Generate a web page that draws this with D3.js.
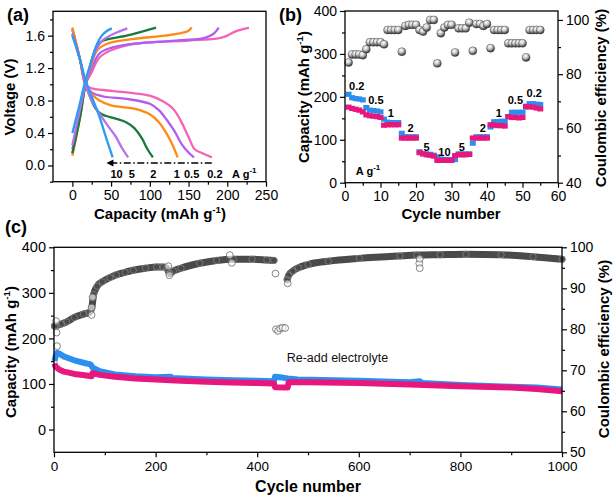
<!DOCTYPE html>
<html><head><meta charset="utf-8">
<script src="https://cdn.jsdelivr.net/npm/d3@7"></script>
<style>body{margin:0;background:#fff}</style>
</head><body><script>
// ---------------- DATA ----------------
// Panel (a): galvanostatic curves [capacity mAh/g, voltage V]
const rateNamesA = ["0.2","0.5","1","2","5","10"];
const chg02 = [[0,0.15],[10,0.6],[17,1.0],[25,1.15],[35,1.33],[50,1.42],[80,1.5],[150,1.54],[190,1.57],[200,1.6],[210,1.65],[220,1.68],[228,1.7]];
const dis02 = [[0,1.68],[10,1.3],[17,1.0],[25,0.95],[40,0.93],[70,0.9],[100,0.86],[115,0.8],[130,0.7],[140,0.55],[150,0.35],[158,0.2],[168,0.15],[180,0.1]];
const chg05 = [[0,0.2],[10,0.65],[17,1.0],[25,1.2],[35,1.38],[50,1.45],[80,1.5],[150,1.55],[170,1.57],[182,1.62],[189,1.7]];
const dis05 = [[0,1.68],[10,1.3],[17,1.0],[25,0.9],[40,0.85],[70,0.82],[100,0.76],[112,0.68],[122,0.56],[132,0.42],[142,0.25],[150,0.16],[157,0.1]];
const chg1 = [[0,0.12],[10,0.6],[17,1.0],[25,1.25],[32,1.42],[45,1.5],[80,1.56],[120,1.6],[140,1.63],[150,1.66],[154,1.7]];
const dis1 = [[0,1.7],[10,1.3],[17,1.0],[25,0.88],[35,0.8],[50,0.74],[80,0.7],[100,0.63],[112,0.53],[120,0.42],[128,0.28],[136,0.1]];
const chg2 = [[0,0.15],[10,0.6],[17,1.0],[25,1.3],[32,1.48],[40,1.54],[70,1.6],[108,1.7]];
const dis2 = [[0,1.62],[10,1.3],[17,1.0],[24,0.82],[30,0.7],[38,0.63],[55,0.58],[70,0.53],[80,0.46],[90,0.33],[97,0.2],[104,0.1]];
const chg5 = [[0,0.25],[10,0.7],[17,1.0],[25,1.28],[32,1.45],[40,1.55],[55,1.63],[71,1.69]];
const dis5 = [[0,1.62],[10,1.3],[17,1.0],[25,0.8],[33,0.67],[45,0.5],[55,0.37],[65,0.2],[72,0.1]];
const chg10 = [[0,0.4],[8,0.7],[17,1.05],[25,1.3],[32,1.5],[38,1.6],[45,1.66],[51,1.69]];
const dis10 = [[0,1.6],[10,1.3],[17,1.05],[25,0.85],[35,0.6],[45,0.3],[52,0.1]];
const arrowLabelsA = ["10","5","2","1","0.5","0.2","A g"];

// Panel (b): rate capability
const cyclesB = d3.range(1, 56);
const chargeB = [206,198,196,195,193, 175,169,168,167,165, 148,141,140,140,140, 115,107,107,107,107, 72,68,67,66,64, 60,55,54,54,54, 54,67,67,67,67, 92,107,107,107,107, 130,142,142,143,143, 154,164,164,164,164, 176,184,184,183,182];
const dischargeB = [176,173,171,169,165, 158,156,155,154,152, 134,135,135,135,135, 104,104,104,104,104, 70,67,65,64,62, 52,52,52,52,52, 63,65,65,65,66, 104,104,104,104,104, 135,134,133,133,132, 154,152,152,151,152, 178,177,176,174,172];
const ceB = [84.3,87.3,87.3,87.3,87.0, 89.2,91.8,91.8,91.8,91.8, 91.0,96.3,96.3,96.3,96.3, 88.3,97.8,98.2,98.2,98.2, 96.3,95.7,97.2,100,100, 84.0,95.1,97.2,98.2,98.2, 88.0,96.9,96.9,96.9,99.0, 88.6,98.5,98.5,97.8,98.5, 89.6,96.3,96.3,96.3,96.3, 91.4,91.4,91.4,91.4,91.4, 86.2,96.3,96.3,96.3,96.3];
const rateLabelsB = ["0.2","0.5","1","2","5","10","5","2","1","0.5","0.2"];

// Panel (c): long cycling [cycle, value]
const chargeC = [[1,150],[3,160],[6,168],[10,167],[20,160],[40,152],[60,146],[72,143],[76,136],[90,128],[120,121],[160,117],[200,115],[230,116],[232,113],[300,110],[350,108],[400,107],[433,106],[435,116],[450,114],[460,112],[480,110],[600,107],[700,104],[720,106],[725,102],[800,98],[900,94],[950,92],[1000,88]];
const dischargeC = [[1,145],[3,138],[10,132],[20,127],[40,122],[60,119],[74,117],[76,124],[90,120],[120,116],[160,112],[200,110],[250,107],[300,105],[350,103],[400,102],[433,101],[435,93],[460,92],[462,104],[500,104],[600,102],[700,99],[800,95],[900,92],[950,89],[1000,84]];
const ceC1 = [[1,80.8],[5,80.9],[15,81.3],[25,81.8],[40,82.9],[58,83.7],[70,84.2],[74,85.0],[78,88.5],[85,90.5],[95,91.6],[110,92.6],[123,93.3],[140,93.9],[156,94.4],[180,94.9],[202,95.2],[215,95.2],[222,94.9],[228,93.6],[235,94.2],[250,94.9],[287,96.1],[320,96.8],[353,97.1],[390,97.1],[419,96.9],[433,96.8]];
const ceCdrop = [[437,80.0],[441,79.6],[445,80.2],[450,80.4],[455,80.3]];
const ceC2 = [[459,92.1],[462,93.2],[470,94.2],[481,95.0],[500,95.8],[540,96.6],[601,97.3],[681,97.9],[714,98.1],[760,98.2],[811,98.3],[880,98.2],[943,97.7],[1000,97.1]];
const ceCout = [[4,82],[5,79.2],[6,75.9],[74,85.3],[74,83.5],[76,87.8],[225,95.4],[227,93.2],[346,98.1],[350,96.2],[436,93.6],[460,91.2],[719,96.1],[720,94.9],[720,97.2]];

// ---------------- DRAW ----------------
const FONT = '"Liberation Sans", Arial, sans-serif';
const svg = d3.select("body").append("svg").attr("width",616).attr("height",500)
  .style("font-family", FONT);
const defs = svg.append("defs");
const grad = defs.append("radialGradient").attr("id","ball").attr("cx","40%").attr("cy","30%").attr("r","70%");
grad.append("stop").attr("offset","0%").attr("stop-color","#ffffff");
grad.append("stop").attr("offset","45%").attr("stop-color","#c8c8c8");
grad.append("stop").attr("offset","100%").attr("stop-color","#2a2a2a");

function addAxis(axis, transform, size){
  const a = svg.append("g").attr("transform", transform).call(axis);
  a.attr("font-family", FONT).attr("font-size", size || 14);
  a.select(".domain").remove();
  a.selectAll("line").attr("stroke","#000").attr("stroke-width",1.2);
  a.selectAll("text").attr("fill","#000");
  return a;
}
function frame(x, y){
  svg.append("rect").attr("x",x.range()[0]).attr("y",y.range()[1])
    .attr("width",x.range()[1]-x.range()[0]).attr("height",y.range()[0]-y.range()[1])
    .attr("fill","none").attr("stroke","#000").attr("stroke-width",1.3);
}
function title(txt, sup, tail, x, y, rot, size){
  const t = svg.append("text").attr("transform",`translate(${x},${y})` + (rot ? " rotate(-90)" : ""))
    .attr("text-anchor","middle").attr("font-weight","bold").attr("font-size", size || 15).attr("fill","#000");
  t.append("tspan").text(txt);
  if (sup){ t.append("tspan").attr("dy",-6).attr("font-size",(size||15)*0.65).text(sup);
            t.append("tspan").attr("dy",6).text(tail); }
  return t;
}

// ===== Panel (a) =====
const xA = d3.scaleLinear([-25,250],[53,266]);
const yA = d3.scaleLinear([-0.2,1.9],[181.7,11.3]);
const lineA = d3.line().x(d=>xA(d[0])).y(d=>yA(d[1])).curve(d3.curveCatmullRom.alpha(0.5));
const curvesA = [
  [chg02,dis02,"#f564b4"],[chg05,dis05,"#b05ef2"],[chg1,dis1,"#ff8a17"],
  [chg2,dis2,"#187a3c"],[chg5,dis5,"#b572f0"],[chg10,dis10,"#2e9af0"]];
curvesA.forEach(([c,d,col])=>{
  [c,d].forEach(s=>svg.append("path").attr("d",lineA(s)).attr("fill","none").attr("stroke",col).attr("stroke-width",2.3));
});
// arrow
svg.append("line").attr("x1",xA(180)).attr("x2",xA(50)).attr("y1",yA(0.03)).attr("y2",yA(0.03))
  .attr("stroke","#000").attr("stroke-width",1.4).attr("stroke-dasharray","7,2.5,1.5,2.5");
svg.append("path").attr("d",`M${xA(44)},${yA(0.03)} l7,-3.5 l0,7 z`).attr("fill","#000");
const arrowPosA = [57,76.6,104.5,134.7,154,184,222];
arrowLabelsA.forEach((s,i)=>{
  const t = svg.append("text").attr("x",xA(arrowPosA[i])).attr("y",yA(-0.1)+4)
    .attr("text-anchor","middle").attr("font-weight","bold").attr("font-size",11).attr("fill","#000").text(s);
  if (s==="A g") t.append("tspan").attr("dy",-5).attr("font-size",8).text("-1");
});
addAxis(d3.axisBottom(xA).tickValues([0,50,100,150,200,250]).tickSize(5).tickPadding(3), `translate(0,${yA.range()[0]})`);
addAxis(d3.axisBottom(xA).tickValues([25,75,125,175,225]).tickSize(3).tickFormat(""), `translate(0,${yA.range()[0]})`);
addAxis(d3.axisLeft(yA).tickValues([0,0.4,0.8,1.2,1.6]).tickFormat(d3.format(".1f")).tickSize(5).tickPadding(3), `translate(${xA.range()[0]},0)`);
addAxis(d3.axisLeft(yA).tickValues([-0.2,0.2,0.6,1.0,1.4,1.8]).tickSize(3).tickFormat(""), `translate(${xA.range()[0]},0)`);
frame(xA,yA);
title("Voltage (V)",null,null,15,97,true);
title("Capacity (mAh g","-1",")",160,219,false);
svg.append("text").attr("x",7).attr("y",21).attr("font-weight","bold").attr("font-size",18).text("(a)");

// ===== Panel (b) =====
const xB = d3.scaleLinear([0,60],[345,558]);
const yB = d3.scaleLinear([0,400],[182.7,11]);
const yB2 = d3.scaleLinear([40,103.3],[182.7,11]);
svg.append("g").selectAll("rect").data(chargeB).join("rect")
  .attr("x",(d,i)=>xB(cyclesB[i])-3).attr("y",d=>yB(d)-2.6).attr("width",6).attr("height",5.2).attr("fill","#2b8ff0");
svg.append("g").selectAll("rect").data(dischargeB).join("rect")
  .attr("x",(d,i)=>xB(cyclesB[i])-3).attr("y",d=>yB(d)-2.6).attr("width",6).attr("height",5.2).attr("fill","#e8177d");
svg.append("g").selectAll("circle").data(ceB).join("circle")
  .attr("cx",(d,i)=>xB(cyclesB[i])).attr("cy",d=>yB2(d)).attr("r",4)
  .attr("fill","url(#ball)").attr("stroke","#444").attr("stroke-width",0.5);
const labelPosB = [[3.3,225],[8.7,193],[12.9,162],[18.5,127],[23,84],[28,71],[32.9,84],[38.8,127],[43.3,162],[48,193],[53.3,210]];
rateLabelsB.forEach((s,i)=>{
  svg.append("text").attr("x",xB(labelPosB[i][0])).attr("y",yB(labelPosB[i][1])+4)
    .attr("text-anchor","middle").attr("font-weight","bold").attr("font-size",11).text(s);
});
{ const t = svg.append("text").attr("x",xB(6.5)).attr("y",yB(28)+4).attr("text-anchor","middle")
    .attr("font-weight","bold").attr("font-size",11).text("A g");
  t.append("tspan").attr("dy",-5).attr("font-size",8).text("-1"); }
addAxis(d3.axisBottom(xB).tickValues([0,10,20,30,40,50,60]).tickSize(5).tickPadding(3), `translate(0,${yB.range()[0]})`);
addAxis(d3.axisBottom(xB).tickValues([5,15,25,35,45,55]).tickSize(3).tickFormat(""), `translate(0,${yB.range()[0]})`);
addAxis(d3.axisLeft(yB).tickValues([0,100,200,300,400]).tickSize(5).tickPadding(3), `translate(${xB.range()[0]},0)`);
addAxis(d3.axisLeft(yB).tickValues([50,150,250,350]).tickSize(3).tickFormat(""), `translate(${xB.range()[0]},0)`);
addAxis(d3.axisRight(yB2).tickValues([40,60,80,100]).tickSize(5).tickPadding(3), `translate(${xB.range()[1]},0)`);
addAxis(d3.axisRight(yB2).tickValues([50,70,90]).tickSize(3).tickFormat(""), `translate(${xB.range()[1]},0)`);
frame(xB,yB);
title("Capacity (mAh g","-1",")",309,97,true);
title("Coulombic efficiency (%)",null,null,606,98,true);
title("Cycle number",null,null,451,219,false);
svg.append("text").attr("x",279).attr("y",21).attr("font-weight","bold").attr("font-size",18).text("(b)");

// ===== Panel (c) =====
const xC = d3.scaleLinear([0,1000],[54,562]);
const yC = d3.scaleLinear([-50,400],[452.3,247.3]);
const yC2 = d3.scaleLinear([50,100],[452.3,247.3]);
const lineC = d3.line().x(d=>xC(d[0])).y(d=>yC(d[1]));
const lineC2 = d3.line().x(d=>xC(d[0])).y(d=>yC2(d[1])).curve(d3.curveMonotoneX);
svg.append("path").attr("d",lineC(chargeC)).attr("fill","none").attr("stroke","#2b8ff0").attr("stroke-width",6).attr("stroke-linejoin","round");
svg.append("path").attr("d",lineC(dischargeC)).attr("fill","none").attr("stroke","#e8177d").attr("stroke-width",6).attr("stroke-linejoin","round");
[ceC1, ceC2].forEach(s=>{
  svg.append("path").attr("d",lineC2(s)).attr("fill","none").attr("stroke","#4a4a4a").attr("stroke-width",7).attr("stroke-linecap","round");
  svg.append("g").selectAll("circle").data(s).join("circle").attr("cx",d=>xC(d[0])).attr("cy",d=>yC2(d[1])).attr("r",3.2)
    .attr("fill","none").attr("stroke","#8a8a8a").attr("stroke-width",0.7);
});
svg.append("g").selectAll("circle").data(ceCdrop.concat(ceCout)).join("circle")
  .attr("cx",d=>xC(d[0])).attr("cy",d=>yC2(d[1])).attr("r",3.4)
  .attr("fill","#fff").attr("fill-opacity",0.6).attr("stroke","#666").attr("stroke-width",0.8);
svg.append("text").attr("x",xC(458)).attr("y",yC(158)+4).attr("font-size",12.5).attr("fill","#111").text("Re-add electrolyte");
addAxis(d3.axisBottom(xC).tickValues([0,200,400,600,800,1000]).tickFormat(d3.format("d")).tickSize(5).tickPadding(4.5), `translate(0,${yC.range()[0]})`, 13.5);
addAxis(d3.axisBottom(xC).tickValues([100,300,500,700,900]).tickSize(3).tickFormat(""), `translate(0,${yC.range()[0]})`);
addAxis(d3.axisLeft(yC).tickValues([0,100,200,300,400]).tickSize(5).tickPadding(3), `translate(${xC.range()[0]},0)`, 14.5);
addAxis(d3.axisLeft(yC).tickValues([50,150,250,350]).tickSize(3).tickFormat(""), `translate(${xC.range()[0]},0)`);
addAxis(d3.axisRight(yC2).tickValues([50,60,70,80,90,100]).tickSize(5).tickPadding(3), `translate(${xC.range()[1]},0)`, 14);
addAxis(d3.axisRight(yC2).tickValues([55,65,75,85,95]).tickSize(3).tickFormat(""), `translate(${xC.range()[1]},0)`);
frame(xC,yC);
title("Capacity (mAh g","-1",")",16,352,true);
title("Coulombic efficiency (%)",null,null,609,349,true);
title("Cycle number",null,null,308,492,false,16);
svg.append("text").attr("x",5).attr("y",233).attr("font-weight","bold").attr("font-size",18).text("(c)");
</script></body></html>
